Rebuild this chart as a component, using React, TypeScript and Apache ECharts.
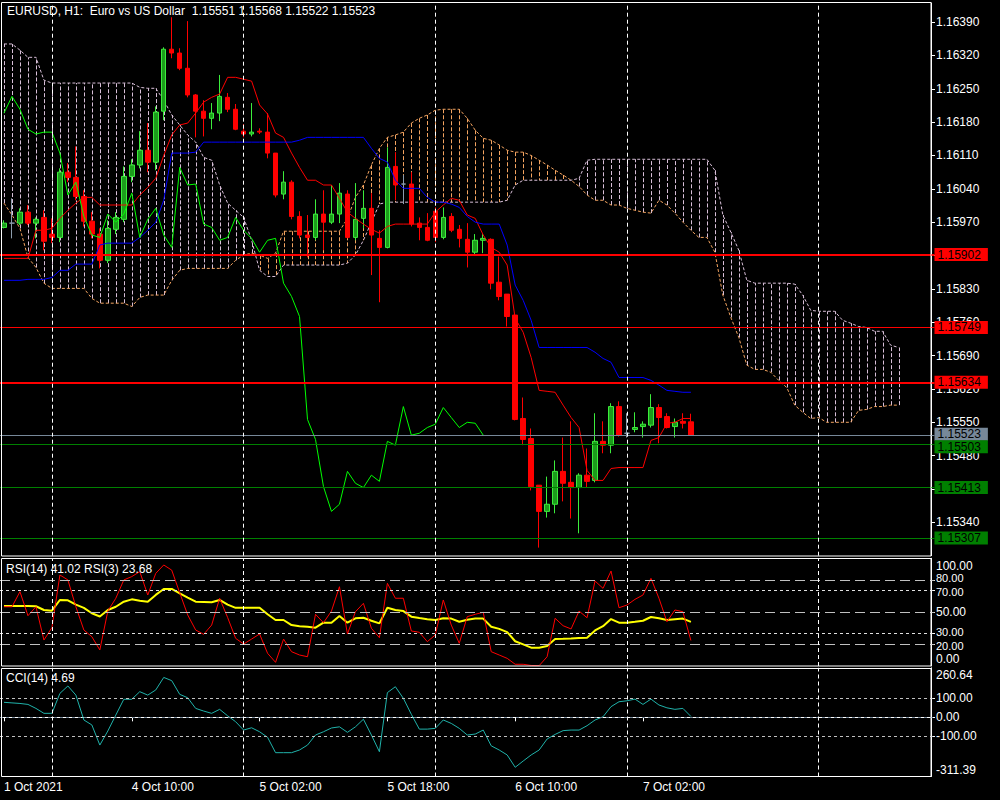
import React, { useEffect, useRef } from 'react';
import * as echarts from 'echarts';

const FONT = '"Liberation Sans", Arial, sans-serif';

const titleText = 'EURUSD, H1:  Euro vs US Dollar  1.15551 1.15568 1.15522 1.15523';
const rsiTitle = 'RSI(14) 41.02 RSI(3) 23.68';
const cciTitle = 'CCI(14) 4.69';

const xTickLabels = ['1 Oct 2021', '4 Oct 10:00', '5 Oct 02:00', '5 Oct 18:00', '6 Oct 10:00', '7 Oct 02:00'];
const xTickIndex = [0, 16, 32, 48, 64, 80];

const priceMin = 1.1527;
const priceMax = 1.1643;
const priceStep = 0.0007;
const rsiLabelValues = [0, 20, 30, 50, 70, 80, 100];
const rsiTickValues = [20, 30, 50, 70, 80];
const cciMin = -311.39;
const cciMax = 260.64;
const cciLabelValues = [-311.39, -100, 0, 100, 260.64];
const cciTickValues = [-100, 0, 100];

const opens = [
  1.15959, 1.15968, 1.15968, 1.15991, 1.15968, 1.1598, 1.15945, 1.15938, 1.16075, 1.16064,
  1.16024, 1.15972, 1.15945, 1.1589, 1.15955, 1.15976, 1.16066, 1.1609, 1.16121, 1.16096,
  1.16203, 1.16333, 1.16325, 1.16293, 1.16237, 1.16203, 1.16188, 1.16199, 1.16232, 1.16207,
  1.16161, 1.16155, 1.16161, 1.16159, 1.16115, 1.16029, 1.16054, 1.15982, 1.15943, 1.15938,
  1.15987, 1.1597, 1.15987, 1.16029, 1.15938, 1.15978, 1.15999, 1.15936, 1.15917, 1.16087,
  1.1605, 1.1605, 1.15968, 1.15959, 1.15993, 1.15938, 1.15982, 1.15955, 1.15934, 1.15907,
  1.15932, 1.15934, 1.15844, 1.15819, 1.15775, 1.15558, 1.15516, 1.15418, 1.15363, 1.15378,
  1.15447, 1.15424, 1.15413, 1.15439, 1.15428, 1.1551, 1.15502, 1.15583, 1.15527, 1.15535,
  1.15541, 1.15544, 1.15581, 1.15562, 1.15541, 1.15552, 1.15551,
];
const closes = [
  1.15968, 1.15968, 1.15991, 1.15968, 1.15976, 1.1593, 1.15938, 1.16075, 1.16064, 1.16024,
  1.15972, 1.15945, 1.1589, 1.15957, 1.1598, 1.16066, 1.1609, 1.16121, 1.16096, 1.16201,
  1.16333, 1.16325, 1.16293, 1.16237, 1.16203, 1.16188, 1.16199, 1.16234, 1.16207, 1.16165,
  1.16155, 1.16159, 1.16159, 1.16115, 1.16027, 1.16054, 1.15982, 1.15943, 1.15938, 1.15987,
  1.1597, 1.15987, 1.16031, 1.15938, 1.15976, 1.15999, 1.15943, 1.15917, 1.16085, 1.16048,
  1.1605, 1.15966, 1.15959, 1.15932, 1.15938, 1.1598, 1.15953, 1.15936, 1.15907, 1.15932,
  1.15936, 1.15842, 1.15814, 1.15772, 1.15556, 1.15514, 1.15415, 1.15363, 1.15378, 1.15447,
  1.15422, 1.15413, 1.15439, 1.15426, 1.1551, 1.15502, 1.15583, 1.15523, 1.15527, 1.15539,
  1.15546, 1.15581, 1.1556, 1.15539, 1.1555, 1.15548, 1.15523,
];
const lows = [
  1.15957, 1.15936, 1.15964, 1.15964, 1.15936, 1.15911, 1.15926, 1.15928, 1.16054, 1.16016,
  1.15961, 1.15936, 1.15873, 1.15884, 1.15945, 1.1597, 1.16054, 1.16083, 1.16075, 1.16079,
  1.16184, 1.16314, 1.16289, 1.16232, 1.16148, 1.1615, 1.16165, 1.16182, 1.16201, 1.16163,
  1.16148, 1.1615, 1.16155, 1.16104, 1.16022, 1.16018, 1.15976, 1.15936, 1.15896, 1.15932,
  1.15911, 1.15966, 1.15968, 1.15936, 1.15932, 1.15957, 1.15859, 1.15802, 1.15915, 1.16016,
  1.16008, 1.15961, 1.15932, 1.1593, 1.15928, 1.15934, 1.15949, 1.15917, 1.15875, 1.15903,
  1.15905, 1.15829, 1.15806, 1.15751, 1.15554, 1.15502, 1.15407, 1.15287, 1.1535, 1.15359,
  1.15384, 1.15348, 1.15317, 1.15413, 1.15424, 1.15485, 1.15485, 1.1552, 1.15518, 1.15529,
  1.15518, 1.15539, 1.15506, 1.15537, 1.15518, 1.15537, 1.15522,
];
const highs = [
  1.15974, 1.1602, 1.15999, 1.16006, 1.1598, 1.15995, 1.15978, 1.16083, 1.16094, 1.16129,
  1.16037, 1.15991, 1.15957, 1.15974, 1.15991, 1.16087, 1.16102, 1.16161, 1.16178, 1.16213,
  1.16337, 1.164, 1.16335, 1.16392, 1.16239, 1.16226, 1.1622, 1.16279, 1.16241, 1.16218,
  1.16176, 1.1622, 1.16167, 1.16199, 1.16115, 1.16077, 1.16058, 1.15993, 1.15985, 1.16018,
  1.16037, 1.16048, 1.16052, 1.16037, 1.16052, 1.16037, 1.16031, 1.15953, 1.16127, 1.16117,
  1.16069, 1.16075, 1.1598, 1.15989, 1.16001, 1.16001, 1.15989, 1.15964, 1.15968, 1.15945,
  1.15945, 1.15936, 1.15898, 1.15819, 1.15775, 1.15602, 1.15537, 1.15418, 1.15436, 1.1547,
  1.15518, 1.15552, 1.15443, 1.15495, 1.15569, 1.15552, 1.1559, 1.15594, 1.15569, 1.15571,
  1.15552, 1.15609, 1.15588, 1.15569, 1.15558, 1.15569, 1.15568,
];

const tenkan = [
  1.15894, 1.15894, 1.15894, 1.15894, 1.15953, 1.15953, 1.15957, 1.15978, 1.15995, 1.1601,
  1.16022, 1.16022, 1.16006, 1.16006, 1.16006, 1.16006, 1.16006, 1.16027, 1.16043, 1.16062,
  1.1611, 1.16153, 1.16174, 1.16178, 1.16199, 1.16222, 1.16232, 1.16239, 1.16274, 1.16274,
  1.1627, 1.16266, 1.16216, 1.16197, 1.16157, 1.16148, 1.16115, 1.16085, 1.16058, 1.16058,
  1.16048, 1.16048, 1.1602, 1.15991, 1.15978, 1.15966, 1.15955, 1.15947, 1.15961, 1.15966,
  1.15966, 1.15966, 1.15966, 1.15966, 1.15991, 1.16006, 1.1602, 1.16016, 1.15985, 1.15978,
  1.15943, 1.15917, 1.15907, 1.1588, 1.15768, 1.15739, 1.15686, 1.15617, 1.15615, 1.15613,
  1.15586, 1.1556, 1.15539, 1.15449, 1.15428, 1.15428, 1.15453, 1.15455, 1.15455, 1.15455,
  1.15455, 1.15512, 1.15518, 1.15548, 1.1555, 1.15558, 1.15558,
];
const kijun = [
  1.15848, 1.15848, 1.15848, 1.1585, 1.1585, 1.1585, 1.15854, 1.15869, 1.15869, 1.15882,
  1.15882, 1.15882, 1.15922, 1.15926, 1.15926, 1.15926, 1.15926, 1.15938, 1.15953, 1.1597,
  1.16016, 1.16115, 1.16115, 1.16115, 1.16117, 1.16138, 1.16138, 1.16138, 1.16138, 1.16138,
  1.16138, 1.16138, 1.16138, 1.16138, 1.16138, 1.16138, 1.16138, 1.16142, 1.16148, 1.16148,
  1.16148, 1.16148, 1.16148, 1.16148, 1.16148, 1.16148, 1.16125, 1.16104, 1.16096, 1.16058,
  1.16041, 1.16041, 1.16041, 1.16022, 1.16012, 1.16012, 1.16008, 1.16001, 1.15982, 1.1597,
  1.15966, 1.15966, 1.15966, 1.15922, 1.15838, 1.15806, 1.15764, 1.15707, 1.15707, 1.15707,
  1.15707, 1.15707, 1.15707, 1.15707, 1.15697, 1.15684, 1.15676, 1.15644, 1.15644, 1.15644,
  1.15644, 1.15638, 1.15628, 1.15617, 1.15615, 1.15613, 1.15613,
];
const spanA = [
  1.1601, 1.15985, 1.15957, 1.15896, 1.15875, 1.15842, 1.15831, 1.15831, 1.15831, 1.15831,
  1.15831, 1.1581, 1.158, 1.158, 1.158, 1.158, 1.15793, 1.15812, 1.15817, 1.15817,
  1.15817, 1.15848, 1.15869, 1.15873, 1.15873, 1.15873, 1.15873, 1.15873, 1.15873, 1.1589,
  1.15901, 1.15905, 1.15901, 1.15894, 1.15905, 1.15951, 1.15951, 1.15951, 1.15951, 1.15951,
  1.15951, 1.15951, 1.15951, 1.15978, 1.16022, 1.16048, 1.1609, 1.16125, 1.16148, 1.16153,
  1.16159, 1.16178, 1.16188, 1.16195, 1.16205, 1.16207, 1.16207, 1.16207, 1.16188, 1.16163,
  1.16146, 1.16142, 1.16132, 1.16121, 1.16117, 1.16117, 1.1611, 1.161, 1.1609, 1.16079,
  1.16069, 1.16058, 1.16045, 1.16027, 1.16016, 1.16016, 1.16006, 1.16006, 1.15999, 1.15995,
  1.15991, 1.15989, 1.16016, 1.16006, 1.15989, 1.1597, 1.15953, 1.15938, 1.15938, 1.15907,
  1.15817, 1.1577, 1.15728, 1.1567, 1.15661, 1.15661, 1.15655, 1.15638, 1.15623, 1.15586,
  1.15571, 1.15558, 1.1556, 1.1555, 1.1555, 1.1555, 1.1555, 1.15575, 1.15577, 1.15583,
  1.15583, 1.15586, 1.15586,
];
const spanB = [
  1.16344, 1.16344, 1.16331, 1.16316, 1.16316, 1.16268, 1.16262, 1.16262, 1.16262, 1.16262,
  1.16262, 1.16262, 1.16262, 1.16262, 1.16262, 1.16262, 1.16262, 1.16253, 1.16251, 1.16251,
  1.16226, 1.16195, 1.16174, 1.16153, 1.16138, 1.16106, 1.161, 1.16048, 1.1601, 1.15995,
  1.1598, 1.15932, 1.15869, 1.15856, 1.15856, 1.1588, 1.1588, 1.1588, 1.1588, 1.1588,
  1.1588, 1.1588, 1.1588, 1.15884, 1.15901, 1.15932, 1.1597, 1.16008, 1.16012, 1.16012,
  1.16012, 1.16012, 1.16012, 1.16012, 1.16012, 1.16012, 1.16012, 1.16012, 1.16012, 1.16012,
  1.16012, 1.16012, 1.16012, 1.16016, 1.16048, 1.16058, 1.16058, 1.16058, 1.16058, 1.16058,
  1.16058, 1.16058, 1.16062, 1.161, 1.16102, 1.16102, 1.16102, 1.16102, 1.16102, 1.16102,
  1.16102, 1.16102, 1.16102, 1.16102, 1.16102, 1.16102, 1.16102, 1.16102, 1.16102, 1.16079,
  1.15985, 1.15949, 1.15911, 1.15848, 1.15842, 1.15842, 1.15842, 1.15842, 1.15842, 1.1584,
  1.15817, 1.15785, 1.15783, 1.15783, 1.15783, 1.15764, 1.15758, 1.15751, 1.15749, 1.15741,
  1.15741, 1.15712, 1.15707,
];

const rsi14 = [
  55.7, 55.7, 55.7, 55.7, 55.5, 52, 51.4, 61.3, 61, 57,
  54, 49, 46, 52, 55, 59.7, 61.9, 60.5, 59.7, 66,
  71.5, 71.5, 67.5, 63.5, 59.7, 59.5, 59.2, 61.3, 57, 54,
  54, 54, 54, 48, 42.7, 42.7, 38, 37, 36.5, 35.6,
  40.2, 40.2, 46.4, 40.2, 44.3, 44.8, 42, 39.6, 54.1, 52,
  51, 45.8, 44.5, 43.5, 42.7, 44.3, 44, 41.1, 43, 44,
  44, 36.5, 34.5, 31.5, 23, 20.1, 17, 17, 18.5, 25,
  25.2, 25.5, 26, 26.3, 33, 37, 43.6, 40.2, 40.2, 41,
  42, 45.5, 44.3, 42.7, 43.5, 44, 41.02,
];
const rsi3 = [
  55, 55, 69, 46.7, 55, 24.1, 35.6, 84.5, 79.9, 55,
  33.4, 27.2, 14.9, 51, 62.9, 79.9, 83, 87.6, 65.9, 86,
  93.8, 89, 68, 47.4, 33.4, 29.4, 38, 62.9, 45, 25.7,
  20.4, 25, 29.7, 11.8, 3.4, 25, 13.3, 10.2, 8.6, 48,
  40.2, 51, 73.6, 29.7, 50.4, 58.2, 35, 26.3, 76.8, 62.9,
  62.9, 32.5, 31.3, 22.6, 28.8, 61.3, 38, 21.1, 45.8, 48,
  49.9, 13.3, 10.2, 7.1, 1.6, 1.6, 0.5, 0.3, 8.6, 44.3,
  37.4, 34.4, 51, 44.8, 78.9, 72.1, 88.2, 54.1, 56.6, 61.9,
  65.9, 81.4, 62.9, 41.1, 52, 50.4, 23.68,
];
const cci14 = [
  79, 76, 73, 68, 47, 21, 21, 126, 165, 117,
  -14, -40, -146, -72, 12, 95, 95, 135, 117, 144,
  210, 193, 121, 103, 47, 33, 21, 42, 8, -23,
  -67, -55, -76, -105, -186, -186, -186, -172, -146, -93,
  -76, -56, -50, -79, -50, -10, -93, -181, 130, 161,
  100, 16, -62, -62, -58, -14, -32, -58, -93, -88,
  -67, -150, -172, -198, -263, -230, -198, -172, -114, -90,
  -70, -67, -67, -44, -14, 3, 56, 82, 87, 96,
  68, 96, 65, 50, 42, 47, 4.69,
];

const redLevels = [1.15902, 1.15749, 1.15634];
const greenLevels = [1.15503, 1.15413, 1.15307];
const bidPrice = 1.15523;
const rsiLongLevels = [80, 50, 20];
const rsiShortLevels = [70, 30];
const cciSideLevels = [100, -100];
const cciZeroLevel = [0];

const CHIKOU_SHIFT = 26;
const CATEGORY_COUNT = 117;

const MONTHS = ['Jan', 'Feb', 'Mar', 'Apr', 'May', 'Jun', 'Jul', 'Aug', 'Sep', 'Oct', 'Nov', 'Dec'];
const pad2 = (n: number) => (n < 10 ? '0' + n : '' + n);
const barTimes: Date[] = [];
for (let i = 0; i < CATEGORY_COUNT; i++) {
  const t = i < 6 ? Date.UTC(2021, 9, 1, 18 + i) : Date.UTC(2021, 9, 4, 0) + (i - 6) * 3600000;
  barTimes.push(new Date(t));
}
const categories = barTimes.map(
  (d) => `${d.getUTCDate()} ${MONTHS[d.getUTCMonth()]} ${pad2(d.getUTCHours())}:00`
);
const dayStarts = barTimes
  .map((d, i) => (i > 0 && d.getUTCHours() === 0 ? i : -1))
  .filter((i) => i >= 0);

const SANDY = '#f4a460';
const THISTLE = '#d8bfd8';
const WHITE = '#ffffff';

function buildOption() {
  const candleData = opens.map((o, i) => [o, closes[i], lows[i], highs[i]]);
  const chikou = categories.map((_, i) =>
    i + CHIKOU_SHIFT < closes.length ? closes[i + CHIKOU_SHIFT] : null
  );
  const cloudData = spanA.map((a, i) => [i, a, spanB[i]]);
  const tickMap = new Map<number, string>();
  xTickIndex.forEach((idx, j) => tickMap.set(idx, xTickLabels[j]));

  const sepMark = {
    silent: true,
    symbol: ['none', 'none'],
    animation: false,
    precision: 5,
    label: { show: false },
    lineStyle: { color: WHITE, width: 1, type: [4, 3] },
    data: dayStarts.map((i) => ({ xAxis: categories[i] })),
  };

  const tag = (v: number, bg: string, width: number, dy = 0) => ({
    yAxis: v,
    lineStyle: { color: bg, width, type: 'solid' },
    label: {
      show: true,
      position: 'end',
      distance: 0,
      offset: [0, dy],
      formatter: v.toFixed(5),
      color: '#000',
      backgroundColor: bg,
      padding: [1, 7, 0, 3],
      lineHeight: 12,
      fontSize: 12,
      fontFamily: FONT,
    },
  });

  const levelMark = {
    silent: true,
    symbol: ['none', 'none'],
    animation: false,
    precision: 5,
    data: [
      tag(redLevels[0], '#ff0000', 2),
      tag(redLevels[1], '#ff0000', 1),
      tag(redLevels[2], '#ff0000', 2),
      tag(bidPrice, '#778899', 1, -1),
      tag(greenLevels[0], '#008000', 1, 2),
      tag(greenLevels[1], '#008000', 1),
      tag(greenLevels[2], '#008000', 1),
    ],
  };

  const hLevels = (vals: number[], color: string, dash: number[]) =>
    vals.map((v) => ({ yAxis: v, lineStyle: { color, width: 1, type: dash }, label: { show: false } }));

  const rsiMark = {
    silent: true,
    symbol: ['none', 'none'],
    animation: false,
    precision: 3,
    label: { show: false },
    data: [
      ...hLevels(rsiLongLevels, '#c0c0c0', [10, 5]),
      ...hLevels(rsiShortLevels, '#e0e0e0', [3, 3]),
    ],
  };
  const cciMark = {
    silent: true,
    symbol: ['none', 'none'],
    animation: false,
    precision: 3,
    label: { show: false },
    data: [...hLevels(cciSideLevels, '#c0c0c0', [3, 3]), ...hLevels(cciZeroLevel, '#778899', [3, 3])],
  };

  const axisText = { color: WHITE, fontSize: 12, fontFamily: FONT };
  const edgeRich = {
    top: { ...axisText, padding: [15, 0, 0, 0] },
    bot: { ...axisText, padding: [0, 0, 14, 0] },
    up: { ...axisText, fontSize: 11, padding: [0, 0, 3, 0] },
    dn: { ...axisText, fontSize: 11, padding: [3, 0, 0, 0] },
  };
  const near = (a: number, b: number) => Math.abs(a - b) < 1e-6;

  const hiddenX = (gridIndex: number) => ({
    type: 'category',
    gridIndex,
    data: categories,
    boundaryGap: true,
    show: false,
  });

  const lineSeries = (name: string, data: any[], color: string, width: number, x: number, z: number, type: any = 'solid') => ({
    type: 'line',
    name,
    data,
    xAxisIndex: x,
    yAxisIndex: x,
    showSymbol: false,
    symbol: 'none',
    silent: true,
    z,
    lineStyle: { color, width, type },
    emphasis: { disabled: true },
  });

  return {
    animation: false,
    backgroundColor: '#000000',
    textStyle: { fontFamily: FONT },
    title: [
      { text: titleText, left: 7, top: 5, padding: 0, textStyle: { ...axisText, fontWeight: 'normal' } },
      { text: rsiTitle, left: 6, top: 563, padding: 0, textStyle: { ...axisText, fontWeight: 'normal' } },
      { text: cciTitle, left: 6, top: 672, padding: 0, textStyle: { ...axisText, fontWeight: 'normal' } },
    ],
    grid: [
      { left: -1.5, top: 3, width: 936, height: 552.7 },
      { left: -1.5, top: 558.3, width: 936, height: 107.7 },
      { left: -1.5, top: 667.8, width: 936, height: 108.7 },
    ],
    xAxis: [
      hiddenX(0),
      hiddenX(1),
      {
        type: 'category',
        gridIndex: 2,
        data: categories,
        boundaryGap: true,
        axisLine: { show: true, lineStyle: { color: WHITE, width: 1 } },
        axisTick: {
          show: true,
          alignWithLabel: true,
          length: 4,
          interval: (i: number) => tickMap.has(i),
          lineStyle: { color: WHITE },
        },
        axisLabel: {
          show: true,
          interval: (i: number) => tickMap.has(i),
          formatter: (_v: string, i: number) => tickMap.get(i) ?? '',
          ...axisText,
          align: 'left',
          margin: 4,
        },
        splitLine: { show: false },
      },
    ],
    yAxis: [
      {
        type: 'value',
        gridIndex: 0,
        position: 'right',
        offset: -3.5,
        min: priceMin,
        max: priceMax,
        interval: priceStep,
        axisLine: { show: true, lineStyle: { color: WHITE } },
        axisTick: { show: true, length: 4, lineStyle: { color: WHITE } },
        axisLabel: {
          ...axisText,
          margin: 5,
          showMinLabel: false,
          showMaxLabel: false,
          formatter: (v: number) => (near(v, priceMin) || near(v, priceMax) ? '' : v.toFixed(5)),
        },
        splitLine: { show: false },
      },
      {
        type: 'value',
        gridIndex: 1,
        position: 'right',
        offset: -3.5,
        min: 0,
        max: 100,
        interval: 10,
        axisLine: { show: true, lineStyle: { color: WHITE } },
        axisTick: { show: true, length: 4, lineStyle: { color: WHITE }, customValues: rsiTickValues },
        axisLabel: {
          ...axisText,
          margin: 5,
          customValues: rsiLabelValues,
          rich: edgeRich,
          formatter: (v: number) => {
            if (!rsiLabelValues.some((r) => near(r, v))) return '';
            const s = v.toFixed(2);
            if (near(v, 100)) return '{top|' + s + '}';
            if (near(v, 0)) return '{bot|' + s + '}';
            if (near(v, 80) || near(v, 30)) return '{up|' + s + '}';
            if (near(v, 70) || near(v, 20)) return '{dn|' + s + '}';
            return s;
          },
        },
        splitLine: { show: false },
      },
      {
        type: 'value',
        gridIndex: 2,
        position: 'right',
        offset: -3.5,
        min: cciMin,
        max: cciMax,
        axisLine: { show: true, lineStyle: { color: WHITE } },
        axisTick: { show: true, length: 4, lineStyle: { color: WHITE }, customValues: cciTickValues },
        axisLabel: {
          ...axisText,
          margin: 5,
          customValues: cciLabelValues,
          rich: edgeRich,
          formatter: (v: number) => {
            if (near(v, cciMax)) return '{top|' + v.toFixed(2) + '}';
            if (near(v, cciMin)) return '{bot|' + v.toFixed(2) + '}';
            return v.toFixed(2);
          },
        },
        splitLine: { show: false },
      },
    ],
    series: [
      {
        type: 'custom',
        name: 'Kumo',
        xAxisIndex: 0,
        yAxisIndex: 0,
        z: 1,
        silent: true,
        data: cloudData,
        encode: { x: 0, y: [1, 2] },
        renderItem: (_p: any, api: any) => {
          const idx = api.value(0);
          const a = api.value(1);
          const b = api.value(2);
          const p1 = api.coord([idx, a]);
          const p2 = api.coord([idx, b]);
          const x = Math.round(p1[0]) + 0.5;
          return {
            type: 'line',
            shape: { x1: x, y1: p1[1], x2: x, y2: p2[1] },
            style: { stroke: a >= b ? SANDY : THISTLE, lineWidth: 1, lineDash: [4, 2] },
          };
        },
      },
      lineSeries('Senkou Span A', spanA, SANDY, 1, 0, 2, [3, 2]),
      lineSeries('Senkou Span B', spanB, THISTLE, 1, 0, 2, [3, 2]),
      {
        type: 'line',
        name: 'levels',
        xAxisIndex: 0,
        yAxisIndex: 0,
        data: [],
        z: 2,
        silent: true,
        markLine: levelMark,
      },
      {
        type: 'line',
        name: 'sep0',
        xAxisIndex: 0,
        yAxisIndex: 0,
        data: [],
        z: 2,
        silent: true,
        markLine: sepMark,
      },
      {
        type: 'candlestick',
        name: 'EURUSD',
        xAxisIndex: 0,
        yAxisIndex: 0,
        z: 3,
        barWidth: 5,
        silent: true,
        data: candleData,
        itemStyle: {
          color: '#1c9c1c',
          color0: '#ff0000',
          borderColor: '#3ced3c',
          borderColor0: '#ff0000',
          borderColorDoji: '#8c9cac',
          borderWidth: 1,
        },
        emphasis: { disabled: true },
      },
      lineSeries('Tenkan-sen', tenkan, '#ff0000', 1, 0, 4),
      lineSeries('Kijun-sen', kijun, '#0000ff', 1, 0, 4),
      lineSeries('Chikou Span', chikou, '#00ff00', 1, 0, 4),
      {
        type: 'line',
        name: 'rsiLevels',
        xAxisIndex: 1,
        yAxisIndex: 1,
        data: [],
        z: 2,
        silent: true,
        markLine: rsiMark,
      },
      {
        type: 'line',
        name: 'sep1',
        xAxisIndex: 1,
        yAxisIndex: 1,
        data: [],
        z: 2,
        silent: true,
        markLine: sepMark,
      },
      lineSeries('RSI(14)', rsi14, '#ffff00', 2, 1, 3),
      lineSeries('RSI(3)', rsi3, '#ff0000', 1, 1, 4),
      {
        type: 'line',
        name: 'cciLevels',
        xAxisIndex: 2,
        yAxisIndex: 2,
        data: [],
        z: 2,
        silent: true,
        markLine: cciMark,
      },
      {
        type: 'line',
        name: 'sep2',
        xAxisIndex: 2,
        yAxisIndex: 2,
        data: [],
        z: 2,
        silent: true,
        markLine: sepMark,
      },
      lineSeries('CCI(14)', cci14, '#20b2aa', 1, 2, 3),
    ],
    graphic: [
      { type: 'rect', z: 100, silent: true, shape: { x: 1.5, y: 2.5, width: 929.5, height: 553.5 }, style: { fill: 'none', stroke: WHITE, lineWidth: 1 } },
      { type: 'rect', z: 100, silent: true, shape: { x: 1.5, y: 558.5, width: 929.5, height: 107.5 }, style: { fill: 'none', stroke: WHITE, lineWidth: 1 } },
      { type: 'rect', z: 100, silent: true, shape: { x: 1.5, y: 668.5, width: 929.5, height: 108 }, style: { fill: 'none', stroke: WHITE, lineWidth: 1 } },
    ],
  };
}

export default function App() {
  const ref = useRef<HTMLDivElement>(null);
  useEffect(() => {
    if (!ref.current) return;
    const chart = echarts.init(ref.current, null, { renderer: 'svg' });
    chart.setOption(buildOption() as any);
    return () => chart.dispose();
  }, []);
  return (
    <div
      ref={ref}
      style={{ position: 'fixed', left: 0, top: 0, width: 1000, height: 800, background: '#000' }}
    />
  );
}
